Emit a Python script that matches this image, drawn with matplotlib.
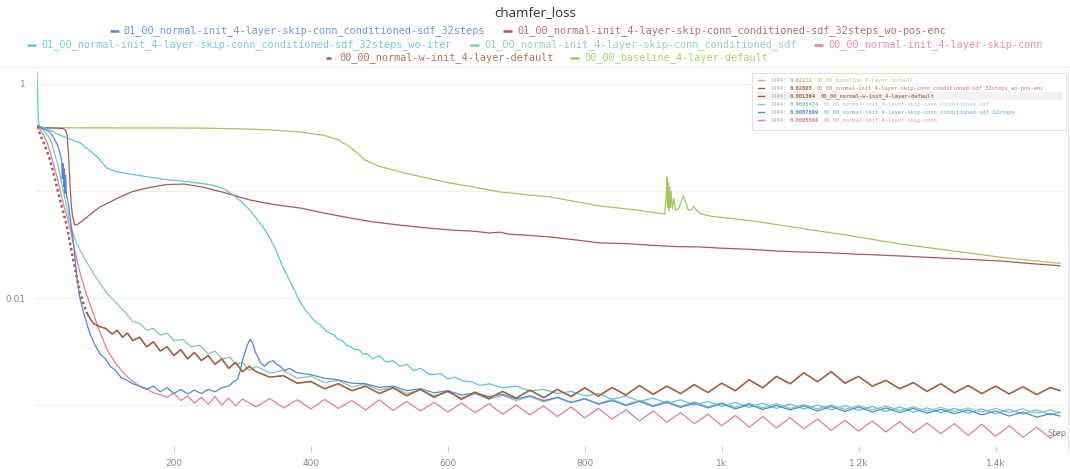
import matplotlib
matplotlib.use("Agg")
import matplotlib.pyplot as plt
from matplotlib.lines import Line2D
from matplotlib.patches import Rectangle

# run names
NAME_32 = "01_00_normal-init_4-layer-skip-conn_conditioned-sdf_32steps"
NAME_WPE = "01_00_normal-init_4-layer-skip-conn_conditioned-sdf_32steps_wo-pos-enc"
NAME_WIT = "01_00_normal-init_4-layer-skip-conn_conditioned-sdf_32steps_wo-iter"
NAME_SDF = "01_00_normal-init_4-layer-skip-conn_conditioned_sdf"
NAME_SKIP = "00_00_normal-init_4-layer-skip-conn"
NAME_WINIT = "00_00_normal-w-init_4-layer-default"
NAME_BASE = "00_00_baseline_4-layer-default"

# 00_00_baseline_4-layer-default
base_steps = [0, 2, 60, 120, 180, 240, 300, 350, 384, 420,
              440, 457, 468, 479, 500, 530, 565, 603, 640, 676,
              710, 749, 785, 822, 870, 909, 917, 919, 920, 921,
              922, 923, 924, 925, 926, 928, 930, 933, 937, 941,
              944, 947, 951, 955, 959, 963, 970, 985, 1050, 1114,
              1190, 1260, 1330, 1406, 1450, 1494]
base_loss = [0.40, 0.39, 0.389, 0.388, 0.388, 0.387, 0.38, 0.37, 0.356, 0.33,
             0.30, 0.258, 0.225, 0.195, 0.17, 0.151, 0.134, 0.119, 0.108, 0.098,
             0.093, 0.088, 0.080, 0.0725, 0.067, 0.062, 0.061, 0.09, 0.135, 0.07,
             0.12, 0.065, 0.11, 0.07, 0.10, 0.068, 0.085, 0.066, 0.068, 0.08,
             0.09, 0.08, 0.067, 0.066, 0.072, 0.066, 0.061, 0.058, 0.052, 0.045,
             0.038, 0.032, 0.028, 0.0241, 0.0225, 0.02111]

# 01_00_..._32steps_wo-pos-enc
wpe_steps = [0, 3, 10, 20, 30, 38, 42, 44, 46, 48,
             50, 52, 55, 60, 70, 80, 92, 110, 125, 140,
             165, 190, 215, 238, 270, 311, 350, 384, 420, 457,
             490, 530, 565, 603, 640, 660, 676, 690, 710, 749,
             785, 822, 860, 900, 935, 968, 1000, 1040, 1080, 1114,
             1150, 1190, 1230, 1260, 1300, 1330, 1370, 1406, 1450, 1494]
wpe_loss = [0.41, 0.40, 0.39, 0.388, 0.386, 0.383, 0.37, 0.33, 0.22, 0.12,
            0.075, 0.058, 0.048, 0.049, 0.055, 0.062, 0.0708, 0.081, 0.090, 0.099,
            0.108, 0.115, 0.116, 0.110, 0.098, 0.0824, 0.074, 0.0694, 0.062, 0.056,
            0.0515, 0.048, 0.0455, 0.0432, 0.042, 0.0405, 0.0412, 0.0395, 0.0388, 0.0372,
            0.035, 0.0327, 0.0322, 0.031, 0.0302, 0.030, 0.0292, 0.0285, 0.0275, 0.0269,
            0.0266, 0.0258, 0.0252, 0.0247, 0.0240, 0.0235, 0.0228, 0.0222, 0.0210, 0.02003]

# 01_00_..._32steps_wo-iter
wit_steps = [0, 1, 2, 4, 10, 19, 30, 45, 63, 75,
             88, 95, 102, 115, 136, 160, 184, 210, 234, 250,
             263, 275, 286, 298, 311, 324, 336, 348, 359, 372,
             384, 392, 399, 407, 414, 421, 428, 434, 440, 446,
             452, 458, 464, 470, 476, 483, 490, 500, 510, 520,
             530, 540, 550, 560, 574, 590, 600, 610, 622, 635,
             647, 660] + list(range(680, 1500, 20)) + [1494]
wit_loss = [1.30, 0.75, 0.45, 0.40, 0.39, 0.372, 0.34, 0.31, 0.281, 0.245,
            0.208, 0.185, 0.164, 0.152, 0.144, 0.136, 0.129, 0.124, 0.119, 0.115,
            0.111, 0.103, 0.092, 0.080, 0.066, 0.052, 0.0405, 0.029, 0.0195, 0.0133,
            0.0092, 0.0078, 0.0068, 0.0060, 0.0056, 0.0050, 0.0047, 0.0045, 0.0041, 0.0040,
            0.0036, 0.0035, 0.0033, 0.0033, 0.0030, 0.0030, 0.0027, 0.0029, 0.0025, 0.0026,
            0.0023, 0.0024, 0.0021, 0.0022, 0.00192, 0.00196, 0.00175, 0.00182, 0.00168, 0.00165,
            0.00152, 0.00158,
            0.00145, 0.00150, 0.00135, 0.00140, 0.00128, 0.00134, 0.00122, 0.00128, 0.00113, 0.00122,
            0.00108, 0.00116, 0.00104, 0.00112, 0.00100, 0.00108, 0.00097, 0.00106, 0.00095, 0.00104,
            0.00093, 0.00102, 0.00092, 0.00100, 0.00090, 0.00099, 0.00089, 0.00097, 0.00087, 0.00096,
            0.00086, 0.00094, 0.00085, 0.00093, 0.00084, 0.00092, 0.00083, 0.00091, 0.00082, 0.00090,
            0.00081,
            0.00086]

# 01_00_..._conditioned_sdf
sdf_steps = [0, 10, 20, 30, 40, 50, 56, 63, 72, 82,
             92, 102, 111, 121, 130, 140, 150, 160, 170, 180,
             190, 200, 213, 225, 238, 250, 260, 270, 282, 290,
             300, 310] + list(range(320, 1500, 20)) + [1494]
sdf_loss = [0.40, 0.37, 0.30, 0.18, 0.09, 0.045, 0.035, 0.028, 0.022, 0.0171,
            0.0138, 0.0111, 0.0097, 0.0083, 0.0072, 0.0060, 0.0058, 0.0050, 0.0052, 0.0045,
            0.0047, 0.0040, 0.0041, 0.0035, 0.0036, 0.0030, 0.0032, 0.0027, 0.0028, 0.0024,
            0.0025, 0.0021,
            0.0023, 0.0020, 0.0021, 0.00178, 0.00186, 0.00162, 0.00170, 0.00148, 0.00156, 0.00138,
            0.00146, 0.00128, 0.00138, 0.00122, 0.00132, 0.00117, 0.00127, 0.00113, 0.00123, 0.00110,
            0.00120, 0.00107, 0.00117, 0.00105, 0.00115, 0.00103, 0.00113, 0.00101, 0.00111, 0.00099,
            0.00109, 0.00097, 0.00107, 0.00096, 0.00105, 0.00095, 0.00104, 0.00094, 0.00103, 0.00093,
            0.00101, 0.00092, 0.00100, 0.00091, 0.00099, 0.00090, 0.00098, 0.00089, 0.00096, 0.00088,
            0.00095, 0.00087, 0.00094, 0.00086, 0.00093, 0.00085, 0.00092, 0.00084, 0.00090,
            0.0008424]

# 01_00_..._32steps
s32_steps = [0, 5, 12, 19, 25, 31, 34, 36, 37, 38,
             39, 40, 41, 42, 43, 45, 48, 51, 54, 58,
             62, 67, 72, 77, 84, 92, 100, 107, 115, 123,
             131, 140, 150, 160, 170, 180, 190, 200, 210, 220,
             230, 240, 250, 260, 270, 280, 287, 293, 297, 300,
             303, 307, 311, 315, 319, 323, 326, 332, 338, 345,
             350, 355, 362, 369] + list(range(380, 1500, 20)) + [1494]
s32_loss = [0.40, 0.39, 0.375, 0.356, 0.31, 0.258, 0.22, 0.195, 0.13, 0.18,
            0.11, 0.16, 0.095, 0.14, 0.09, 0.082, 0.06, 0.042, 0.03, 0.0157,
            0.0105, 0.0077, 0.006, 0.0047, 0.0037, 0.0030, 0.0027, 0.0023, 0.0021, 0.0018,
            0.00171, 0.00158, 0.00150, 0.00140, 0.00150, 0.00133, 0.00145, 0.00128, 0.00140, 0.00127,
            0.00138, 0.00128, 0.00140, 0.00133, 0.00145, 0.00150, 0.00165, 0.00175, 0.0021, 0.0026,
            0.0030, 0.0036, 0.0041, 0.0038, 0.0031, 0.0028, 0.0025, 0.0023, 0.0025, 0.0026,
            0.0024, 0.0023, 0.0021, 0.0022,
            0.0020, 0.00192, 0.00178, 0.00172, 0.00160, 0.00158, 0.00146, 0.00150, 0.00136, 0.00142,
            0.00130, 0.00136, 0.00124, 0.00130, 0.00120, 0.00126, 0.00114, 0.00122, 0.00110, 0.00118,
            0.00106, 0.00114, 0.00102, 0.00110, 0.00099, 0.00108, 0.00097, 0.00106, 0.00095, 0.00104,
            0.00094, 0.00103, 0.00092, 0.00101, 0.00091, 0.00099, 0.00090, 0.00098, 0.00088, 0.00097,
            0.00087, 0.00096, 0.00086, 0.00094, 0.00085, 0.00093, 0.00084, 0.00091, 0.00083, 0.00090,
            0.00081, 0.00088, 0.00079, 0.00086, 0.00077, 0.00083,
            0.0007899]

# 00_00_normal-init_4-layer-skip-conn
skip_steps = [0, 5, 10, 15, 20, 25, 30, 34, 40, 48,
              55, 63, 72, 82, 92, 102, 114, 126, 138, 150,
              160, 170, 180, 190, 200, 210, 220, 230, 240, 250,
              260, 270, 280, 290, 300] + list(range(320, 1500, 20)) + [1494]
skip_loss = [0.40, 0.37, 0.33, 0.28, 0.22, 0.17, 0.13, 0.10, 0.07, 0.046,
             0.028, 0.017, 0.011, 0.0072, 0.0048, 0.0033, 0.0025, 0.0020, 0.0017, 0.0015,
             0.00142, 0.0013, 0.00125, 0.00118, 0.0013, 0.0011, 0.00122, 0.00104, 0.00118, 0.00102,
             0.0012, 0.0010, 0.00116, 0.00098, 0.00114,
             0.00096, 0.00115, 0.00094, 0.00112, 0.00092, 0.00113, 0.00093, 0.0011, 0.0009, 0.00112,
             0.00089, 0.00108, 0.00088, 0.00106, 0.00086, 0.00104, 0.00085, 0.00103, 0.00082, 0.0010,
             0.00081, 0.00098, 0.00078, 0.00096, 0.00076, 0.00093, 0.00074, 0.0009, 0.00071, 0.00088,
             0.00069, 0.00085, 0.00067, 0.00082, 0.00064, 0.0008, 0.00062, 0.00078, 0.00061, 0.00076,
             0.0006, 0.00074, 0.00058, 0.00072, 0.00057, 0.00071, 0.00056, 0.0007, 0.00055, 0.00068,
             0.00054, 0.00067, 0.00052, 0.00066, 0.00051, 0.00064, 0.0005, 0.00062, 0.00049,
             0.0005566]

# 00_00_normal-w-init_4-layer-default (highlighted run)
winit_steps = [0, 6, 12, 19, 25, 31, 37, 44, 48, 53,
               58, 63, 68, 73, 82, 92, 100, 110, 117, 125,
               132, 140, 150, 160, 170, 180, 190, 200, 210, 220,
               230, 240, 250, 260, 270, 280, 290, 300, 310] + list(range(320, 1500, 20)) + [1494]
winit_loss = [0.40, 0.32, 0.26, 0.195, 0.14, 0.096, 0.068, 0.046, 0.033, 0.0227,
              0.016, 0.0111, 0.0088, 0.0072, 0.0058, 0.0054, 0.0052, 0.0046, 0.0050, 0.0043,
              0.0047, 0.0040, 0.0043, 0.0035, 0.0039, 0.0032, 0.0035, 0.0029, 0.0033, 0.0027,
              0.0031, 0.0026, 0.0029, 0.0024, 0.0027, 0.0022, 0.0025, 0.00205, 0.0023,
              0.00205, 0.00182, 0.00188, 0.00160, 0.00166, 0.00142, 0.00158, 0.00136, 0.00150, 0.00128,
              0.00145, 0.00122, 0.00140, 0.00118, 0.00136, 0.00113, 0.00132, 0.00115, 0.00134, 0.00116,
              0.00138, 0.00117, 0.00140, 0.00120, 0.00145, 0.00121, 0.00146, 0.00124, 0.00152, 0.00126,
              0.00150, 0.00128, 0.00155, 0.00131, 0.00160, 0.00136, 0.00172, 0.00145, 0.00185, 0.00158,
              0.00200, 0.00165, 0.00205, 0.00160, 0.00185, 0.00150, 0.00170, 0.00142, 0.00162, 0.00134,
              0.00158, 0.00130, 0.00152, 0.00128, 0.00150, 0.00127, 0.00148, 0.00125, 0.00146,
              0.001364]

BLUE = "#5387DD"
BROWN_RED = "#A85A52"
CYAN = "#5BC5DB"
TEAL = "#80C9B2"
PINK = "#E87B9F"
BROWN = "#A4603C"
GREEN = "#A0C75C"

W, H = 1070, 469


def fx(x):
    return x / W


def fy(y):
    return 1 - y / H


fig = plt.figure(figsize=(W / 100, H / 100), dpi=100)
ax = fig.add_axes([fx(37), fy(452), (1064 - 37) / W, (452 - 70) / H])

ax.plot(base_steps, base_loss, color=GREEN, lw=0.9, zorder=2)
ax.plot(wpe_steps, wpe_loss, color=BROWN_RED, lw=0.9, zorder=2)
ax.plot(wit_steps, wit_loss, color=CYAN, lw=0.9, zorder=2)
ax.plot(sdf_steps, sdf_loss, color=TEAL, lw=0.9, zorder=2)
ax.plot(skip_steps, skip_loss, color=PINK, lw=0.9, zorder=3)
ax.plot(s32_steps, s32_loss, color=BLUE, lw=0.9, zorder=3)
# highlighted run: dotted on the first drop, bold afterwards
ax.plot(winit_steps[:14], winit_loss[:14], color=BROWN, lw=1.8,
        linestyle=(0, (1, 1.2)), zorder=4)
ax.plot(winit_steps[13:], winit_loss[13:], color=BROWN, lw=1.2, zorder=4)

ax.set_yscale("log")
ax.set_xlim(0, 1500)
ax.set_ylim(3.64e-4, 1.35)
ax.set_yticks([1e-3, 1e-2, 1e-1, 1])
ax.set_yticklabels(["", "0.01", "", "1"])
ax.minorticks_off()
ax.set_xticks([200, 400, 600, 800, 1000, 1200, 1400])
ax.set_xticklabels(["200", "400", "600", "800", "1k", "1.2k", "1.4k"])
ax.tick_params(axis="y", length=0, pad=8, labelsize=6.5, labelcolor="#888888")
ax.tick_params(axis="x", direction="in", length=4, color="#d0d0d0", pad=5,
               labelsize=6.5, labelcolor="#888888")
ax.grid(axis="y", color="#efefef", lw=0.8)
ax.set_axisbelow(True)
for s in ax.spines.values():
    s.set_visible(False)

# panel border lines
fig.add_artist(Line2D([0, 1], [fy(67), fy(67)], color="#f0f0f0", lw=0.8))
fig.add_artist(Line2D([fx(1068), fx(1068)], [fy(70), fy(452)], color="#e8e8e8", lw=0.8))

fig.text(fx(1067), fy(433), "Step", fontsize=6, color="#888888", va="center", ha="right")

fig.text(fx(535), fy(13), "chamfer_loss", ha="center", va="center",
         fontsize=9.5, family="Open Sans", color="#333333")

# legend rows along the top
CHAR_W = 6.19
legend_rows = [
    (31, 530, [(NAME_32, BLUE, False), (NAME_WPE, BROWN_RED, False)]),
    (45, 536, [(NAME_WIT, CYAN, False), (NAME_SDF, TEAL, False), (NAME_SKIP, PINK, False)]),
    (58, 548, [(NAME_WINIT, BROWN, True), (NAME_BASE, GREEN, False)]),
]
for y, center, entries in legend_rows:
    widths = [9 + 5 + len(name) * CHAR_W for name, _, _ in entries]
    total = sum(widths) + 14 * (len(entries) - 1)
    x = center - total / 2
    for (name, color, dashed), w in zip(entries, widths):
        fig.add_artist(Line2D([fx(x), fx(x + 9)], [fy(y), fy(y)], color=color, lw=1.8,
                              linestyle=(0, (2, 1.5)) if dashed else "-",
                              solid_capstyle="butt"))
        fig.text(fx(x + 14), fy(y), name, fontsize=7.4, family="DejaVu Sans Mono",
                 color=color, alpha=0.85, va="center", ha="left")
        x += w + 14

# hover box with the last values
fig.add_artist(Rectangle((fx(752), fy(130)), (1066 - 752) / W, (130 - 73) / H,
                         transform=fig.transFigure, facecolor="white",
                         edgecolor="#e2e2e2", lw=0.8, zorder=5))
hover_rows = [
    (base_steps, base_loss, NAME_BASE, GREEN),
    (wpe_steps, wpe_loss, NAME_WPE, BROWN_RED),
    (winit_steps, winit_loss, NAME_WINIT, BROWN),
    (sdf_steps, sdf_loss, NAME_SDF, TEAL),
    (s32_steps, s32_loss, NAME_32, BLUE),
    (skip_steps, skip_loss, NAME_SKIP, PINK),
]
cw = 3.35
for i, (st, vals, name, color) in enumerate(hover_rows):
    y = 80 + i * 8
    if name == NAME_WINIT:
        fig.add_artist(Rectangle((fx(756), fy(y + 4)), (1062 - 756) / W, 8 / H,
                                 transform=fig.transFigure, facecolor="#f2f2f2",
                                 edgecolor="none", zorder=6))
    fig.add_artist(Line2D([fx(758), fx(764)], [fy(y), fy(y)], color=color, lw=1.0, zorder=7))
    step_txt = f"{st[-1]}:"
    val_txt = f"{vals[-1]:.4g}"
    x = 770
    fig.text(fx(x), fy(y), step_txt, fontsize=4, family="DejaVu Sans Mono",
             color="#aaaaaa", va="center", zorder=8)
    x += (len(step_txt) + 1) * cw
    fig.text(fx(x), fy(y), val_txt, fontsize=4, family="DejaVu Sans Mono",
             color=color, weight="bold", va="center", zorder=8)
    x += (len(val_txt) + 1) * cw
    fig.text(fx(x), fy(y), name, fontsize=4, family="DejaVu Sans Mono",
             color=color, alpha=0.8, va="center", zorder=8,
             weight="bold" if name == NAME_WINIT else "normal")

fig.savefig("out.png", dpi=100)
